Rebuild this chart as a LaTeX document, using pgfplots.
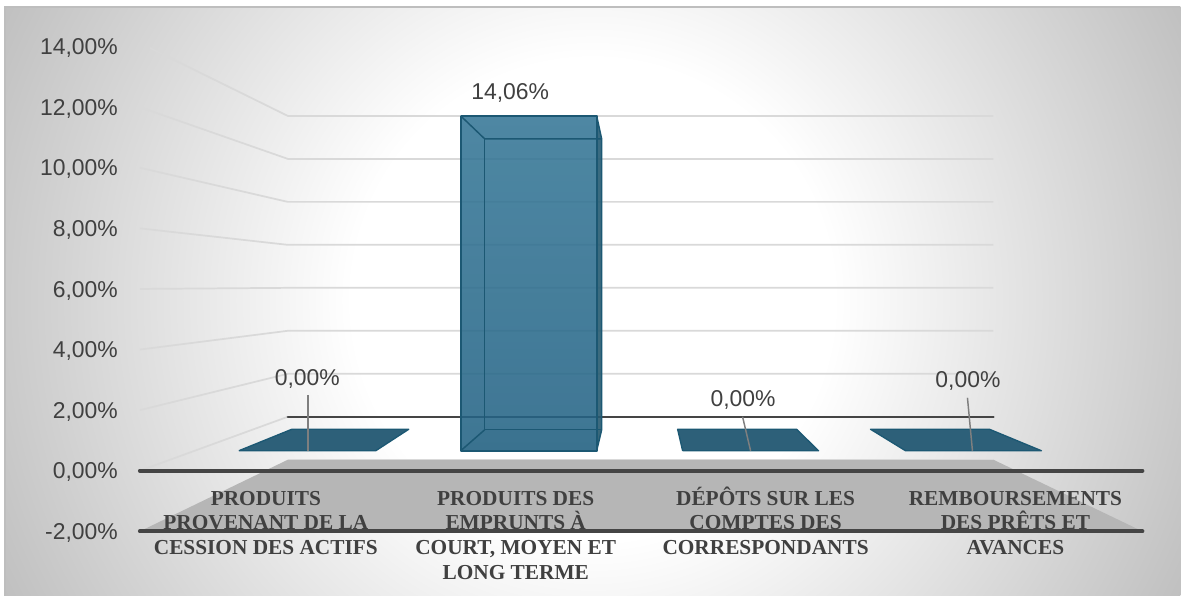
\documentclass[border=0pt]{standalone}
\usepackage{fontspec}
\usepackage{pgfplots}
\pgfplotsset{compat=1.18}
\setmainfont{Liberation Sans}
\newfontfamily\catfont{Liberation Serif}
\definecolor{txt}{HTML}{404040}
\definecolor{gridc}{HTML}{D9D9D9}
\definecolor{axc}{HTML}{454545}
\definecolor{floorc}{HTML}{B6B6B6}
\definecolor{flatc}{HTML}{2D6079}
\definecolor{edgec}{HTML}{1C5873}
\definecolor{sidec}{HTML}{2A5F75}
\definecolor{framec}{HTML}{BEBEBE}
\definecolor{bgout}{HTML}{C0C0C0}
\definecolor{leader}{HTML}{7F7F7F}
\pgfdeclareradialshading{chartbg}{\pgfpoint{0bp}{0bp}}{color(0bp)=(white);color(180bp)=(white);color(492bp)=(bgout)}
\begin{document}
\begin{tikzpicture}[x=1pt,y=1pt]
\begin{axis}[
  scale only axis,
  axis on top,
  width=753.75pt,
  height=363.75pt,
  xmin=138, xmax=1143,
  ymin=-2, ymax=14,
  clip=false,
  axis line style={draw=none},
  tick style={draw=none},
  major tick length=0pt,
  ytick={-2,0,2,4,6,8,10,12,14},
  yticklabels={{-2,00\%},{0,00\%},{2,00\%},{4,00\%},{6,00\%},{8,00\%},{10,00\%},{12,00\%},{14,00\%}},
  yticklabel style={anchor=east,xshift=-11.6pt,yshift=-1.2pt,text=txt,font=\fontsize{17.2}{20}\selectfont},
  xtick={266,516,766,1016},
  xticklabels={{\rule{0pt}{16pt}PRODUITS\\PROVENANT DE LA\\CESSION DES ACTIFS},
               {\rule{0pt}{16pt}PRODUITS DES\\EMPRUNTS À\\COURT, MOYEN ET\\LONG TERME},
               {\rule{0pt}{16pt}DÉPÔTS SUR LES\\COMPTES DES\\CORRESPONDANTS},
               {\rule{0pt}{16pt}REMBOURSEMENTS\\DES PRÊTS ET\\AVANCES}},
  xticklabel style={anchor=north,yshift=39pt,align=center,text=txt,
     font=\catfont\bfseries\fontsize{16}{18.45}\selectfont},
]
% bounding box and background
\path (axis cs:0,-4.124) rectangle (axis cs:1181,15.538);
\begin{scope}
  \clip (axis cs:5,-4.124) rectangle (axis cs:1181,15.307);
  \node[overlay,inner sep=0pt,outer sep=0pt] at (axis cs:593,5.641) {\pgfuseshading{chartbg}};
\end{scope}
\draw[framec,line width=1pt] (axis cs:5,-4.124) -- (axis cs:5,15.307) -- (axis cs:1181,15.307);

% left wall
\addplot[gridc,line width=1.3pt] coordinates {(150,13.955) (288,11.711) (994,11.711)};
\addplot[gridc,line width=1.3pt] coordinates {(140,12) (288,10.293) (994,10.293)};
\addplot[gridc,line width=1.3pt] coordinates {(140,10) (288,8.874) (994,8.874)};
\addplot[gridc,line width=1.3pt] coordinates {(140,8) (288,7.456) (994,7.456)};
\addplot[gridc,line width=1.3pt] coordinates {(140,6) (288,6.037) (994,6.037)};
\addplot[gridc,line width=1.3pt] coordinates {(140,4) (288,4.619) (994,4.619)};
\addplot[gridc,line width=1.3pt] coordinates {(140,2) (288,3.200) (994,3.200)};
\addplot[gridc,line width=1.3pt] coordinates {(140,0) (288,1.781)};
\addplot[axc,line width=1.9pt,line cap=round] coordinates {(288,1.781) (994,1.781)};

% floor
\addplot[fill=floorc,draw=none] coordinates {(140,-2) (288,0.363) (994,0.363) (1143,-2) (140,-2)};
\addplot[gridc,line width=1pt] coordinates {(288,0.363) (994,0.363)};
\addplot[axc,line width=3pt,line cap=round] coordinates {(140,0) (1143,0)};
\addplot[axc,line width=3pt,line cap=round] coordinates {(140,-2) (1143,-2)};

% zero-height bars
\addplot[fill=flatc,draw=edgec,line width=1pt,line join=round] coordinates {(239,0.660) (376,0.660) (409,1.369) (292,1.369) (239,0.660)};
\addplot[fill=flatc,draw=edgec,line width=1pt,line join=round] coordinates {(683,0.660) (819,0.660) (797,1.369) (678,1.369) (683,0.660)};
\addplot[fill=flatc,draw=edgec,line width=1pt,line join=round] coordinates {(906,0.660) (1042,0.660) (990,1.369) (871,1.369) (906,0.660)};

% tall bar
\addplot[top color=edgec!40!sidec,bottom color=sidec!95!black,draw=none,fill opacity=0.9] coordinates {(597,11.711) (602,10.953) (602,1.353) (597,0.660) (597,11.711)};
\addplot[top color={rgb,255:red,52;green,118;blue,150},bottom color={rgb,255:red,34;green,98;blue,132},draw=none,fill opacity=0.87] coordinates {(461,11.711) (597,11.711) (597,0.660) (461,0.660) (461,11.711)};
\addplot[fill=edgec,fill opacity=0.1,draw=none] coordinates {(461,0.660) (597,0.660) (602,1.353) (485,1.353) (461,0.660)};
\addplot[edgec,line width=1.1pt] coordinates {(461,11.711) (485,10.953) (602,10.953)};
\addplot[edgec,line width=1.1pt] coordinates {(485,10.953) (485,1.353) (602,1.353)};
\addplot[edgec,line width=1.1pt] coordinates {(461,0.660) (485,1.353)};
\addplot[edgec,line width=1.1pt] coordinates {(597,0.660) (602,1.353) (602,10.953) (597,11.711)};
\addplot[edgec,line width=1.3pt,line join=round] coordinates {(461,11.711) (597,11.711) (597,0.660) (461,0.660) (461,11.711)};

% leaders
\addplot[leader,line width=1.1pt] coordinates {(308,2.507) (308,0.660)};
\addplot[leader,line width=1.1pt] coordinates {(743,1.781) (751,0.660)};
\addplot[leader,line width=1.1pt] coordinates {(968,2.408) (973,0.660)};

% data labels
\node[text=txt,font=\fontsize{17.2}{20}\selectfont] at (axis cs:307.5,3.035) {0,00\%};
\node[text=txt,font=\fontsize{17.2}{20}\selectfont] at (axis cs:510.5,12.47) {14,06\%};
\node[text=txt,font=\fontsize{17.2}{20}\selectfont] at (axis cs:743.5,2.342) {0,00\%};
\node[text=txt,font=\fontsize{17.2}{20}\selectfont] at (axis cs:968.5,2.969) {0,00\%};
\end{axis}
\end{tikzpicture}
\end{document}
